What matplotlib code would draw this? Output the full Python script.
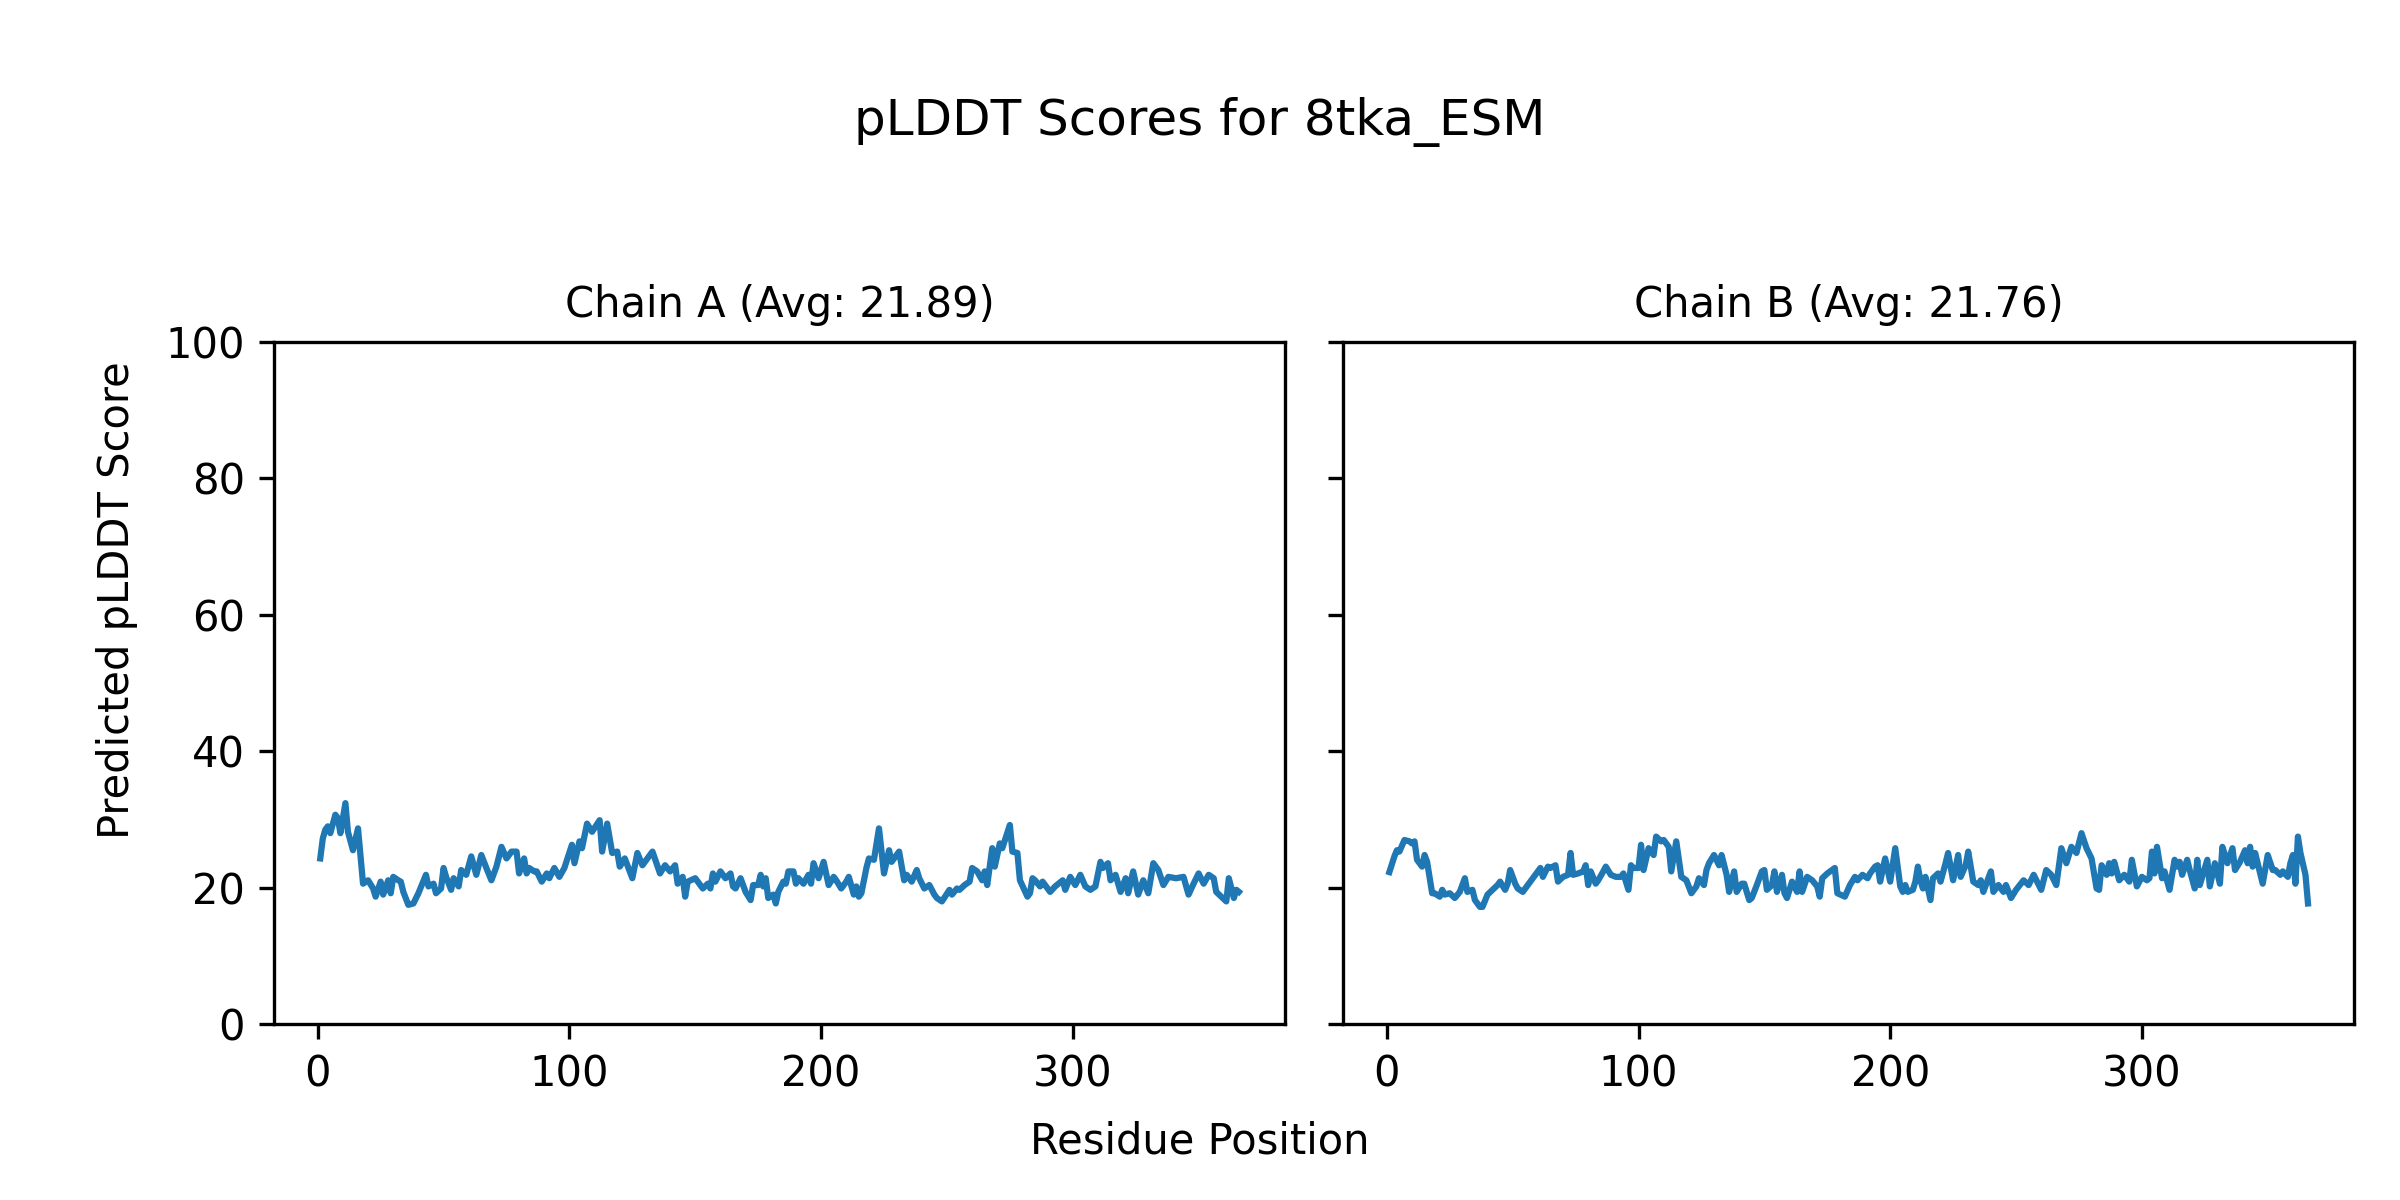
"""pLDDT score profiles for the two chains of 8tka_ESM."""

from __future__ import annotations

import matplotlib

matplotlib.use("Agg")
import matplotlib.pyplot as plt

TITLE = "pLDDT Scores for 8tka_ESM"
CHAINS = ["A", "B"]
AVERAGES = [21.89, 21.76]

# (residue position, pLDDT)
CHAIN_A = [
    (1, 24.3), (2, 27.2), (3, 28.5), (4, 29.0), (5, 28.0), (7, 30.7),
    (8, 30.2), (9, 28.0), (11, 32.4), (12, 28.2), (14, 25.5), (16, 28.7),
    (18, 20.6), (20, 21.1), (22, 19.9), (23, 18.7), (25, 20.9), (26, 19.0),
    (28, 21.1), (29, 19.2), (30, 21.6), (32, 21.1), (33, 20.9), (34, 19.4),
    (36, 17.5), (38, 17.7), (40, 19.2), (43, 21.9), (44, 20.2), (46, 20.6),
    (47, 19.2), (49, 19.9), (50, 22.9), (51, 21.6), (53, 19.7), (54, 21.4),
    (56, 20.2), (57, 22.6), (59, 21.9), (61, 24.6), (63, 21.9), (65, 24.8),
    (67, 22.9), (69, 21.1), (71, 23.1), (73, 26.0), (75, 24.3), (77, 25.3),
    (79, 25.3), (80, 22.1), (82, 24.3), (83, 22.1), (84, 22.9), (86, 22.4),
    (87, 22.4), (89, 20.9), (91, 22.1), (92, 21.4), (94, 22.9), (96, 21.6),
    (98, 22.9), (101, 26.3), (102, 23.6), (104, 26.8), (105, 25.8),
    (107, 29.4), (109, 28.2), (112, 29.9), (113, 25.3), (115, 29.4),
    (117, 25.1), (119, 25.3), (120, 23.1), (122, 24.3), (125, 21.4),
    (127, 25.1), (129, 23.3), (131, 24.3), (133, 25.3), (136, 22.1),
    (138, 23.3), (140, 22.4), (142, 23.3), (143, 20.6), (145, 21.6),
    (146, 18.7), (147, 20.9), (150, 21.4), (153, 19.9), (155, 20.6),
    (156, 19.9), (157, 22.1), (158, 20.9), (160, 22.4), (162, 21.4),
    (164, 22.1), (165, 20.2), (166, 19.9), (168, 21.4), (170, 19.4),
    (172, 18.2), (173, 20.4), (175, 20.4), (176, 21.9), (177, 20.2),
    (178, 21.4), (179, 18.5), (181, 19.0), (182, 17.7), (183, 19.4),
    (185, 20.9), (186, 20.6), (187, 22.4), (189, 22.4), (190, 20.6),
    (191, 21.4), (193, 20.6), (195, 21.9), (196, 20.6), (197, 23.6),
    (199, 21.4), (201, 23.8), (203, 20.4), (205, 21.6), (206, 21.1),
    (208, 19.9), (210, 20.9), (211, 21.6), (213, 19.0), (214, 20.2),
    (215, 18.7), (216, 19.2), (218, 22.9), (219, 24.3), (221, 24.1),
    (223, 28.7), (225, 22.1), (227, 25.5), (228, 23.8), (229, 24.3),
    (231, 25.3), (233, 21.1), (234, 21.9), (236, 20.9), (238, 22.6),
    (239, 21.4), (241, 19.9), (243, 20.4), (245, 19.0), (246, 18.5),
    (248, 18.0), (251, 19.7), (252, 19.0), (254, 19.9), (255, 19.7),
    (257, 20.4), (259, 20.9), (260, 22.9), (262, 22.4), (264, 21.1),
    (265, 22.4), (266, 20.4), (268, 25.8), (269, 23.1), (271, 26.5),
    (272, 25.8), (275, 29.2), (276, 25.3), (278, 25.1), (279, 21.1),
    (282, 18.7), (283, 19.2), (284, 21.4), (285, 21.1), (287, 20.2),
    (288, 20.9), (290, 19.9), (291, 19.4), (293, 20.2), (296, 21.1),
    (297, 19.7), (299, 21.6), (301, 20.4), (303, 21.9), (305, 20.2),
    (307, 19.7), (309, 20.2), (311, 23.8), (312, 22.9), (314, 23.6),
    (315, 21.1), (317, 21.9), (319, 19.4), (321, 21.4), (322, 19.2),
    (324, 22.4), (326, 19.0), (328, 21.1), (330, 19.2), (332, 23.6),
    (334, 22.6), (336, 20.4), (338, 21.6), (341, 21.4), (344, 21.6),
    (346, 19.0), (348, 20.6), (350, 22.1), (352, 20.6), (354, 21.9),
    (356, 21.4), (357, 19.4), (359, 18.7), (361, 18.0), (362, 21.4),
    (364, 18.5), (365, 19.7), (366, 19.4),
]

CHAIN_B = [
    (1, 22.3), (3, 24.6), (4, 25.5), (5, 25.3), (7, 27.0), (9, 26.8),
    (10, 26.5), (11, 26.8), (12, 24.1), (14, 23.1), (15, 24.8), (16, 23.8),
    (18, 19.2), (19, 19.2), (21, 18.7), (22, 19.7), (23, 19.0), (25, 19.2),
    (27, 18.5), (29, 19.4), (31, 21.4), (32, 19.4), (34, 19.7), (35, 18.2),
    (37, 17.2), (38, 17.2), (40, 19.0), (42, 19.7), (44, 20.4), (45, 20.9),
    (47, 19.7), (48, 20.6), (49, 22.6), (51, 20.6), (52, 19.9), (54, 19.4),
    (56, 20.4), (57, 20.9), (59, 21.9), (61, 22.9), (62, 21.6), (64, 23.1),
    (65, 22.9), (67, 23.3), (68, 20.9), (70, 21.6), (72, 21.9), (73, 25.1),
    (74, 21.9), (76, 22.1), (78, 22.4), (79, 23.3), (80, 20.4), (81, 22.4),
    (83, 20.6), (84, 21.1), (86, 22.4), (87, 23.1), (89, 21.9), (91, 21.6),
    (93, 21.6), (94, 22.1), (96, 19.7), (97, 23.3), (98, 22.9), (100, 22.9),
    (101, 26.3), (102, 22.6), (104, 25.8), (106, 24.8), (107, 27.5),
    (109, 26.8), (110, 27.0), (112, 26.0), (113, 22.4), (115, 26.8),
    (117, 21.6), (119, 21.1), (121, 19.2), (123, 20.2), (124, 21.4),
    (126, 20.4), (127, 22.6), (128, 23.6), (130, 24.8), (132, 23.3),
    (133, 24.8), (135, 21.9), (136, 19.4), (138, 22.4), (139, 19.4),
    (141, 20.6), (142, 20.6), (144, 18.2), (145, 18.5), (147, 20.4),
    (149, 22.4), (150, 22.6), (151, 19.7), (153, 20.4), (154, 22.4),
    (155, 19.4), (157, 21.9), (158, 19.2), (159, 18.5), (161, 20.9),
    (163, 19.4), (164, 22.4), (165, 19.4), (167, 21.6), (169, 21.1),
    (171, 20.2), (172, 18.7), (173, 21.4), (175, 22.1), (178, 22.9),
    (179, 19.2), (182, 18.7), (184, 20.4), (186, 21.6), (187, 21.1),
    (189, 21.9), (191, 21.4), (192, 22.1), (194, 23.1), (195, 23.3),
    (196, 20.9), (198, 24.3), (200, 20.9), (202, 25.8), (204, 20.2),
    (205, 19.4), (206, 20.4), (207, 19.4), (209, 19.7), (210, 20.9),
    (211, 23.1), (212, 21.1), (213, 19.9), (214, 21.6), (216, 18.2),
    (217, 21.4), (219, 22.1), (220, 20.9), (222, 23.6), (223, 25.1),
    (225, 21.1), (227, 24.8), (228, 21.6), (230, 23.3), (231, 25.3),
    (233, 20.9), (235, 20.4), (236, 21.1), (237, 19.4), (240, 22.4),
    (241, 19.4), (243, 20.4), (245, 19.4), (246, 20.4), (248, 18.5),
    (250, 19.7), (253, 21.1), (255, 20.4), (257, 21.9), (260, 19.7),
    (262, 22.6), (264, 21.9), (266, 20.4), (268, 25.8), (270, 23.6),
    (272, 26.0), (274, 25.1), (276, 28.0), (278, 25.8), (280, 24.3),
    (282, 19.9), (283, 19.7), (284, 23.3), (286, 21.9), (287, 23.6),
    (288, 22.1), (289, 23.8), (291, 21.1), (293, 21.9), (295, 20.9),
    (296, 24.1), (298, 20.2), (300, 21.6), (302, 21.1), (303, 21.4),
    (304, 25.3), (305, 22.1), (306, 26.0), (308, 21.4), (309, 22.4),
    (311, 19.7), (313, 24.1), (314, 23.1), (315, 23.8), (316, 21.9),
    (318, 24.1), (319, 22.6), (321, 19.9), (322, 24.1), (323, 20.4),
    (326, 24.1), (327, 20.2), (329, 23.6), (331, 20.6), (332, 26.0),
    (334, 23.6), (336, 25.8), (337, 22.6), (339, 23.8), (341, 25.5),
    (342, 23.6), (343, 26.0), (344, 23.1), (345, 25.1), (348, 20.6),
    (350, 24.8), (352, 22.6), (353, 22.6), (355, 21.9), (356, 22.4),
    (358, 21.6), (359, 23.6), (360, 24.8), (361, 20.6), (362, 27.5),
    (363, 25.1), (365, 21.9), (366, 17.7),
]


def make_figure() -> None:
    fig, axes = plt.subplots(1, 2, figsize=(8, 4), dpi=300, sharey=True)
    fig.subplots_adjust(left=0.1143, right=0.9808, bottom=0.1464,
                        top=0.7153, wspace=0.058)

    for ax, chain, avg, data in zip(axes, CHAINS, AVERAGES, [CHAIN_A, CHAIN_B]):
        pos = [p for p, _ in data]
        score = [s for _, s in data]
        ax.plot(pos, score, color="#1f77b4", linewidth=1.5)
        ax.set_title(f"Chain {chain} (Avg: {avg:.2f})", fontsize=10)
        ax.set_ylim(0, 100)
        ax.set_xticks([0, 100, 200, 300])

    fig.suptitle(TITLE, fontsize=12, y=0.898, va="center")
    fig.text(0.5, 0.049, "Residue Position", ha="center", va="center",
             fontsize=10)
    fig.text(0.04, 0.5, "Predicted pLDDT Score", va="center",
             rotation="vertical", fontsize=10)

    fig.savefig("out.png", dpi=300)
    plt.close(fig)


def main() -> None:
    make_figure()


if __name__ == "__main__":
    main()
